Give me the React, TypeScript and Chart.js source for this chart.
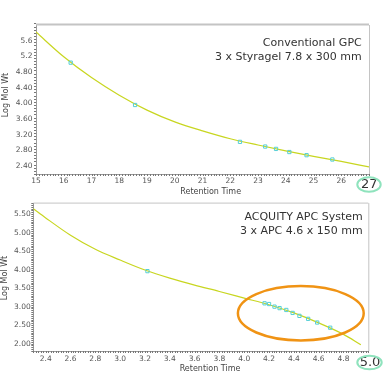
import React, { useEffect, useRef } from 'react';
import { Chart, registerables } from 'chart.js';

Chart.register(...registerables);

// ---------- Top panel (Conventional GPC) ----------
const TOP_CURVE_X = [15, 16, 17, 18, 19, 20, 21, 22, 23, 24, 25, 26, 27];
const TOP_CURVE_Y = [5.82, 5.19, 4.66, 4.21, 3.83, 3.53, 3.3, 3.1, 2.94, 2.79, 2.65, 2.52, 2.38];
const TOP_PTS_X = [16.25, 18.57, 22.35, 23.26, 23.65, 24.13, 24.75, 25.68];
const TOP_PTS_Y = [5.04, 3.96, 3.02, 2.9, 2.84, 2.76, 2.68, 2.57];
const TOP_X_TICKS = [15, 16, 17, 18, 19, 20, 21, 22, 23, 24, 25, 26, 27];
const TOP_X_LABELS = ['15', '16', '17', '18', '19', '20', '21', '22', '23', '24', '25', '26', '27'];
const TOP_Y_TICKS = [2.4, 2.8, 3.2, 3.6, 4.0, 4.4, 4.8, 5.2, 5.6];
const TOP_Y_LABELS = ['2.40', '2.80', '3.20', '3.60', '4.00', '4.40', '4.80', '5.2', '5.6'];
const TOP_TEXT = ['Conventional GPC', '3 x Styragel 7.8 x 300 mm'];

// ---------- Bottom panel (ACQUITY APC) ----------
const BOT_CURVE_X = [2.3, 2.4, 2.6, 2.8, 3.0, 3.2, 3.4, 3.6, 3.8, 4.0, 4.2, 4.4, 4.6, 4.8, 4.94];
const BOT_CURVE_Y = [5.65, 5.4, 4.93, 4.55, 4.26, 3.99, 3.77, 3.58, 3.41, 3.23, 3.05, 2.83, 2.56, 2.25, 1.97];
const BOT_PTS_X = [3.22, 4.164, 4.2, 4.244, 4.285, 4.339, 4.39, 4.445, 4.515, 4.588, 4.693];
const BOT_PTS_Y = [3.96, 3.09, 3.07, 3.0, 2.96, 2.91, 2.83, 2.75, 2.67, 2.57, 2.43];
const BOT_X_TICKS = [2.4, 2.6, 2.8, 3.0, 3.2, 3.4, 3.6, 3.8, 4.0, 4.2, 4.4, 4.6, 4.8, 5.0];
const BOT_X_LABELS = ['2.4', '2.6', '2.8', '3.0', '3.2', '3.4', '3.6', '3.8', '4.0', '4.2', '4.4', '4.6', '4.8', '5.0'];
const BOT_Y_TICKS = [2.0, 2.5, 3.0, 3.5, 4.0, 4.5, 5.0, 5.5];
const BOT_Y_LABELS = ['2.00', '2.50', '3.00', '3.50', '4.00', '4.50', '5.00', '5.50'];
const BOT_TEXT = ['ACQUITY APC System', '3 x APC 4.6 x 150 mm'];
// highlighted region (data units): centre x, centre y, half-width, half-height
const BOT_HIGHLIGHT = [4.456, 2.82, 0.507, 0.735];

const X_TITLE = 'Retention Time';
const Y_TITLE = 'Log Mol Wt';

const FONT = '"DejaVu Sans", Verdana, sans-serif';
const CURVE_COLOR = '#c8d620';
const POINT_COLOR = '#56cfd6';
const TICK_COLOR = '#555555';
const AXIS_COLOR = '#9a9a9a';
const FRAME_COLOR = '#c4c4c4';
const GREEN_RING = '#8fe3bd';
const ORANGE = '#f09314';

type Panel = {
  width: number;
  height: number;
  curveX: number[];
  curveY: number[];
  ptsX: number[];
  ptsY: number[];
  xMin: number;
  xMax: number;
  yMin: number;
  yMax: number;
  xTicks: number[];
  xLabels: string[];
  yTicks: number[];
  yLabels: string[];
  text: string[];
  padTop: number;
  padRight: number;
  yWidth: number;
  xHeight: number;
  yTickPad: number;
  xTickPad: number;
  topFrameWidth: number;
  xMinor: number;
  yMinor: number;
  textRight: number;
  textY: number[];
  xTitlePos: [number, number];
  yTitlePos: [number, number];
  lastLabelPos: [number, number];
  ring: [number, number, number, number];
  highlight?: number[];
};

const TOP_PANEL: Panel = {
  width: 391,
  height: 200,
  curveX: TOP_CURVE_X,
  curveY: TOP_CURVE_Y,
  ptsX: TOP_PTS_X,
  ptsY: TOP_PTS_Y,
  xMin: 15,
  xMax: 27,
  yMin: 2.2,
  yMax: 6.0,
  xTicks: TOP_X_TICKS,
  xLabels: TOP_X_LABELS,
  yTicks: TOP_Y_TICKS,
  yLabels: TOP_Y_LABELS,
  text: TOP_TEXT,
  padTop: 25,
  padRight: 22,
  yWidth: 36,
  xHeight: 26,
  yTickPad: 3.5,
  xTickPad: 2.2,
  topFrameWidth: 2,
  xMinor: 0.1,
  yMinor: 0.08,
  textRight: 361.7,
  textY: [43.3, 57.3],
  xTitlePos: [210.7, 191.7],
  yTitlePos: [5.5, 95],
  lastLabelPos: [369.3, 184.3],
  ring: [369, 184.5, 11.7, 7.2],
};

const BOT_PANEL: Panel = {
  width: 391,
  height: 180,
  curveX: BOT_CURVE_X,
  curveY: BOT_CURVE_Y,
  ptsX: BOT_PTS_X,
  ptsY: BOT_PTS_Y,
  xMin: 2.3,
  xMax: 5.0,
  yMin: 1.8,
  yMax: 5.8,
  xTicks: BOT_X_TICKS,
  xLabels: BOT_X_LABELS,
  yTicks: BOT_Y_TICKS,
  yLabels: BOT_Y_LABELS,
  text: BOT_TEXT,
  padTop: 4.7,
  padRight: 22.7,
  yWidth: 33.3,
  xHeight: 25,
  yTickPad: 2.6,
  xTickPad: 3.8,
  topFrameWidth: 1,
  xMinor: 0.02,
  yMinor: 0.05,
  textRight: 362.7,
  textY: [20.7, 34.7],
  xTitlePos: [210, 173.3],
  yTitlePos: [5, 82],
  lastLabelPos: [370, 166.3],
  ring: [369.5, 166.5, 12.2, 6.8],
  highlight: BOT_HIGHLIGHT,
};

function buildChart(canvas: HTMLCanvasElement, p: Panel) {
  const lastIdx = p.xTicks.length - 1;
  const overlay = {
    id: 'overlay',
    afterDraw(chart: any) {
      const ctx = chart.ctx as CanvasRenderingContext2D;
      const a = chart.chartArea;
      const xs = chart.scales.x;
      const ys = chart.scales.y;
      ctx.save();
      // frame (top + right)
      ctx.strokeStyle = FRAME_COLOR;
      ctx.lineWidth = p.topFrameWidth;
      ctx.beginPath();
      ctx.moveTo(a.left, a.top - p.topFrameWidth / 2 + 0.5);
      ctx.lineTo(a.right, a.top - p.topFrameWidth / 2 + 0.5);
      ctx.stroke();
      ctx.lineWidth = 1;
      ctx.beginPath();
      ctx.moveTo(a.right + 0.5, a.top);
      ctx.lineTo(a.right + 0.5, a.bottom);
      ctx.stroke();

      // minor ticks
      ctx.strokeStyle = '#777777';
      ctx.lineWidth = 1;
      ctx.beginPath();
      const nx = Math.round((p.xMax - p.xMin) / p.xMinor);
      for (let i = 0; i <= nx; i++) {
        const px = Math.round(xs.getPixelForValue(p.xMin + i * p.xMinor)) + 0.5;
        ctx.moveTo(px, a.bottom);
        ctx.lineTo(px, a.bottom + 2);
      }
      const ny = Math.round((p.yMax - p.yMin) / p.yMinor);
      for (let i = 0; i <= ny; i++) {
        const py = Math.round(ys.getPixelForValue(p.yMin + i * p.yMinor)) + 0.5;
        ctx.moveTo(a.left, py);
        ctx.lineTo(a.left - 2, py);
      }
      ctx.stroke();

      // axis titles
      ctx.fillStyle = '#444444';
      ctx.font = `8px ${FONT}`;
      ctx.textAlign = 'center';
      ctx.textBaseline = 'middle';
      ctx.fillText(X_TITLE, p.xTitlePos[0], p.xTitlePos[1]);
      ctx.save();
      ctx.translate(p.yTitlePos[0], p.yTitlePos[1]);
      ctx.rotate(-Math.PI / 2);
      ctx.fillText(Y_TITLE, 0, 0);
      ctx.restore();

      // emphasised last x label with ring
      ctx.font = `13px ${FONT}`;
      ctx.fillStyle = '#333333';
      ctx.fillText(p.xLabels[lastIdx], p.lastLabelPos[0], p.lastLabelPos[1]);
      ctx.strokeStyle = GREEN_RING;
      ctx.lineWidth = 2;
      ctx.beginPath();
      ctx.ellipse(p.ring[0], p.ring[1], p.ring[2], p.ring[3], 0, 0, Math.PI * 2);
      ctx.stroke();

      // panel description
      ctx.font = `11px ${FONT}`;
      ctx.fillStyle = '#333333';
      ctx.textAlign = 'right';
      p.text.forEach((t, i) => ctx.fillText(t, p.textRight, p.textY[i]));

      // highlighted region
      if (p.highlight) {
        const [cx, cy, hw, hh] = p.highlight;
        const pcx = xs.getPixelForValue(cx);
        const pcy = ys.getPixelForValue(cy);
        const rx = Math.abs(xs.getPixelForValue(cx + hw) - pcx);
        const ry = Math.abs(ys.getPixelForValue(cy + hh) - pcy);
        ctx.strokeStyle = ORANGE;
        ctx.lineWidth = 2.5;
        ctx.beginPath();
        ctx.ellipse(pcx, pcy, rx, ry, 0, 0, Math.PI * 2);
        ctx.stroke();
      }
      ctx.restore();
    },
  };

  return new Chart(canvas, {
    type: 'scatter',
    data: {
      datasets: [
        {
          label: 'fit',
          data: p.curveX.map((x, i) => ({ x, y: p.curveY[i] })),
          showLine: true,
          borderColor: CURVE_COLOR,
          borderWidth: 1.2,
          pointRadius: 0,
          cubicInterpolationMode: 'monotone',
          order: 2,
        },
        {
          label: 'standards',
          data: p.ptsX.map((x, i) => ({ x, y: p.ptsY[i] })),
          showLine: false,
          pointStyle: 'rect',
          pointRadius: 2.3,
          borderColor: POINT_COLOR,
          backgroundColor: 'rgba(255,255,255,0)',
          borderWidth: 1,
          order: 1,
        },
      ],
    },
    options: {
      animation: false,
      responsive: false,
      devicePixelRatio: 1,
      layout: { padding: { top: p.padTop, right: p.padRight, left: 0, bottom: 0 } },
      plugins: { legend: { display: false }, tooltip: { enabled: false } },
      scales: {
        x: {
          type: 'linear',
          min: p.xMin,
          max: p.xMax,
          afterFit: (s: any) => {
            s.height = p.xHeight;
          },
          afterBuildTicks: (s: any) => {
            s.ticks = p.xTicks.map((v) => ({ value: v }));
          },
          grid: { display: false, drawTicks: false, tickLength: 0 },
          border: { display: true, color: AXIS_COLOR, width: 1 },
          ticks: {
            autoSkip: false,
            maxRotation: 0,
            padding: p.xTickPad,
            color: TICK_COLOR,
            font: { family: FONT, size: 7.5 },
            callback: (_v: any, i: number) => (i === lastIdx ? '' : p.xLabels[i]),
          },
        },
        y: {
          type: 'linear',
          min: p.yMin,
          max: p.yMax,
          afterFit: (s: any) => {
            s.width = p.yWidth;
          },
          afterBuildTicks: (s: any) => {
            s.ticks = p.yTicks.map((v) => ({ value: v }));
          },
          grid: { display: false, drawTicks: false, tickLength: 0 },
          border: { display: true, color: AXIS_COLOR, width: 1 },
          ticks: {
            autoSkip: false,
            padding: p.yTickPad,
            color: TICK_COLOR,
            font: { family: FONT, size: 7.5 },
            callback: (_v: any, i: number) => p.yLabels[i],
          },
        },
      },
    },
    plugins: [overlay],
  } as any);
}

function PanelCanvas({ panel, top }: { panel: Panel; top: number }) {
  const ref = useRef<HTMLCanvasElement | null>(null);
  useEffect(() => {
    if (!ref.current) return;
    const chart = buildChart(ref.current, panel);
    return () => chart.destroy();
  }, [panel]);
  return (
    <canvas
      ref={ref}
      width={panel.width}
      height={panel.height}
      style={{ position: 'absolute', left: 0, top, width: panel.width, height: panel.height }}
    />
  );
}

export default function App() {
  return (
    <div
      style={{
        position: 'fixed',
        left: 0,
        top: 0,
        width: 391,
        height: 376,
        background: '#ffffff',
        overflow: 'hidden',
      }}
    >
      <PanelCanvas panel={TOP_PANEL} top={0} />
      <PanelCanvas panel={BOT_PANEL} top={196} />
    </div>
  );
}
